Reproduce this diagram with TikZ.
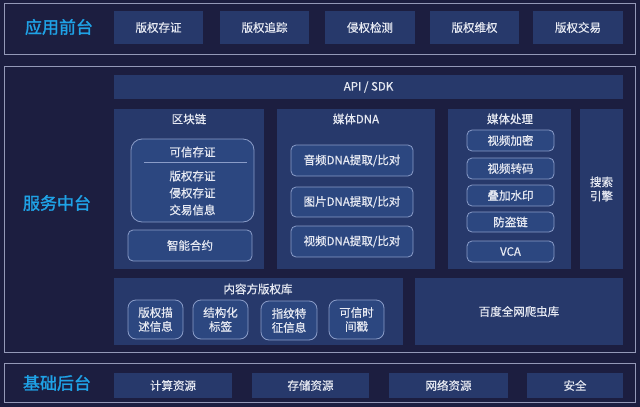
\documentclass[tikz,border=0pt]{standalone}
\usepackage{fontspec}
\setmainfont{Noto Sans CJK SC}[FakeBold=0.6]
\newfontfamily\lblfont{Noto Sans CJK SC}[FakeBold=1.6]
\definecolor{bg}{HTML}{1C1E40}
\definecolor{pan}{HTML}{27396B}
\definecolor{ibx}{HTML}{2C4780}
\definecolor{ibd}{HTML}{8A9CC8}
\definecolor{frm}{HTML}{9499B8}
\definecolor{txt}{HTML}{E6E9F2}
\definecolor{cyanl}{HTML}{1FA2E6}
\newcommand\rbox[7]{\node[#1, minimum width={(#5-#3)*1pt}, minimum height={(#6-#4)*1pt}] (#2) at ({(#3+#5)/2},{(#4+#6)/2}) {#7};}
\begin{document}
\begin{tikzpicture}[x=1pt,y=-1pt,
  every node/.style={font=\fontsize{11.5}{14}\selectfont, text=txt, inner sep=0pt, align=center},
  panel/.style={fill=pan},
  ibox/.style={fill=ibx, draw=ibd, line width=0.8pt, rounded corners=5pt},
  sbox/.style={fill=ibx, draw=ibd, line width=0.8pt, rounded corners=8pt},
  frame/.style={draw=frm, line width=1pt},
  lbl/.style={font=\lblfont\fontsize{17}{20}\selectfont, text=cyanl}]
\useasboundingbox (0,0) rectangle (640,407);
\fill[bg] (0,0) rectangle (640,407);
% frames
\rbox{frame}{ftop}{4}{3}{635}{54}{}
\rbox{frame}{fmid}{4}{66}{635}{352}{}
\rbox{frame}{fbot}{4}{363}{635}{402}{}
% labels
\node[lbl] (l1) at (59,27) {应用前台};
\node[lbl] (l2) at (57,203) {服务中台};
\node[lbl] (l3) at (57,383) {基础后台};
% top row
\rbox{panel}{t1}{114}{11}{203}{44}{版权存证}
\rbox{panel}{t2}{220}{11}{309}{44}{版权追踪}
\rbox{panel}{t3}{325}{11}{415}{44}{侵权检测}
\rbox{panel}{t4}{430}{11}{519}{44}{版权维权}
\rbox{panel}{t5}{533}{11}{623}{44}{版权交易}
% API
\rbox{panel}{api}{114}{75}{623}{99}{API / SDK}
% panels
\rbox{panel}{bc}{114}{109}{264}{269}{}
\rbox{panel}{dna}{277}{109}{435}{269}{}
\rbox{panel}{mp}{448}{109}{571}{269}{}
\rbox{panel}{se}{580}{109}{623}{269}{搜索\\引擎}
\node (bct) at (189,119) {区块链};
\node (dnat) at (356,119) {媒体DNA};
\node (mpt) at (510,119) {媒体处理};
% blockchain
\rbox{ibox,rounded corners=11pt}{kx}{131}{139}{254}{222}{}
\node (kxt) at (192.5,152) {可信存证};
\draw[ibd, line width=0.8pt] (144,162) -- (247,162);
\node[font=\fontsize{11.5}{17}\selectfont] (kxb) at (192.5,193) {版权存证\\侵权存证\\交易信息};
\rbox{ibox}{zn}{128}{230}{252}{261}{智能合约}
% DNA
\rbox{ibox}{d1}{291}{145}{413}{176}{音频DNA提取/比对}
\rbox{ibox}{d2}{291}{187}{413}{217}{图片DNA提取/比对}
\rbox{ibox}{d3}{291}{226}{413}{257}{视频DNA提取/比对}
% media processing
\rbox{ibox}{m1}{467}{130}{554}{151}{视频加密}
\rbox{ibox}{m2}{467}{158}{554}{179}{视频转码}
\rbox{ibox}{m3}{467}{185}{554}{206}{叠加水印}
\rbox{ibox}{m4}{467}{212}{554}{232}{防盗链}
\rbox{ibox}{m5}{467}{241}{554}{262}{VCA}
% content library
\rbox{panel}{cl}{114}{278}{403}{345}{}
\node (clt) at (258,289) {内容方版权库};
\rbox{sbox}{c1}{128}{300}{183}{339}{版权描\\述信息}
\rbox{sbox}{c2}{193}{300}{248}{339}{结构化\\标签}
\rbox{sbox}{c3}{261}{301}{317}{340}{指纹特\\征信息}
\rbox{sbox}{c4}{329}{300}{384}{339}{可信时\\间戳}
\rbox{panel}{cr}{415}{278}{623}{345}{百度全网爬虫库}
% bottom
\rbox{panel}{b1}{114}{373}{232}{398}{计算资源}
\rbox{panel}{b2}{252}{373}{369}{398}{存储资源}
\rbox{panel}{b3}{389}{373}{508}{398}{网络资源}
\rbox{panel}{b4}{527}{373}{623}{398}{安全}
\end{tikzpicture}
\end{document}
